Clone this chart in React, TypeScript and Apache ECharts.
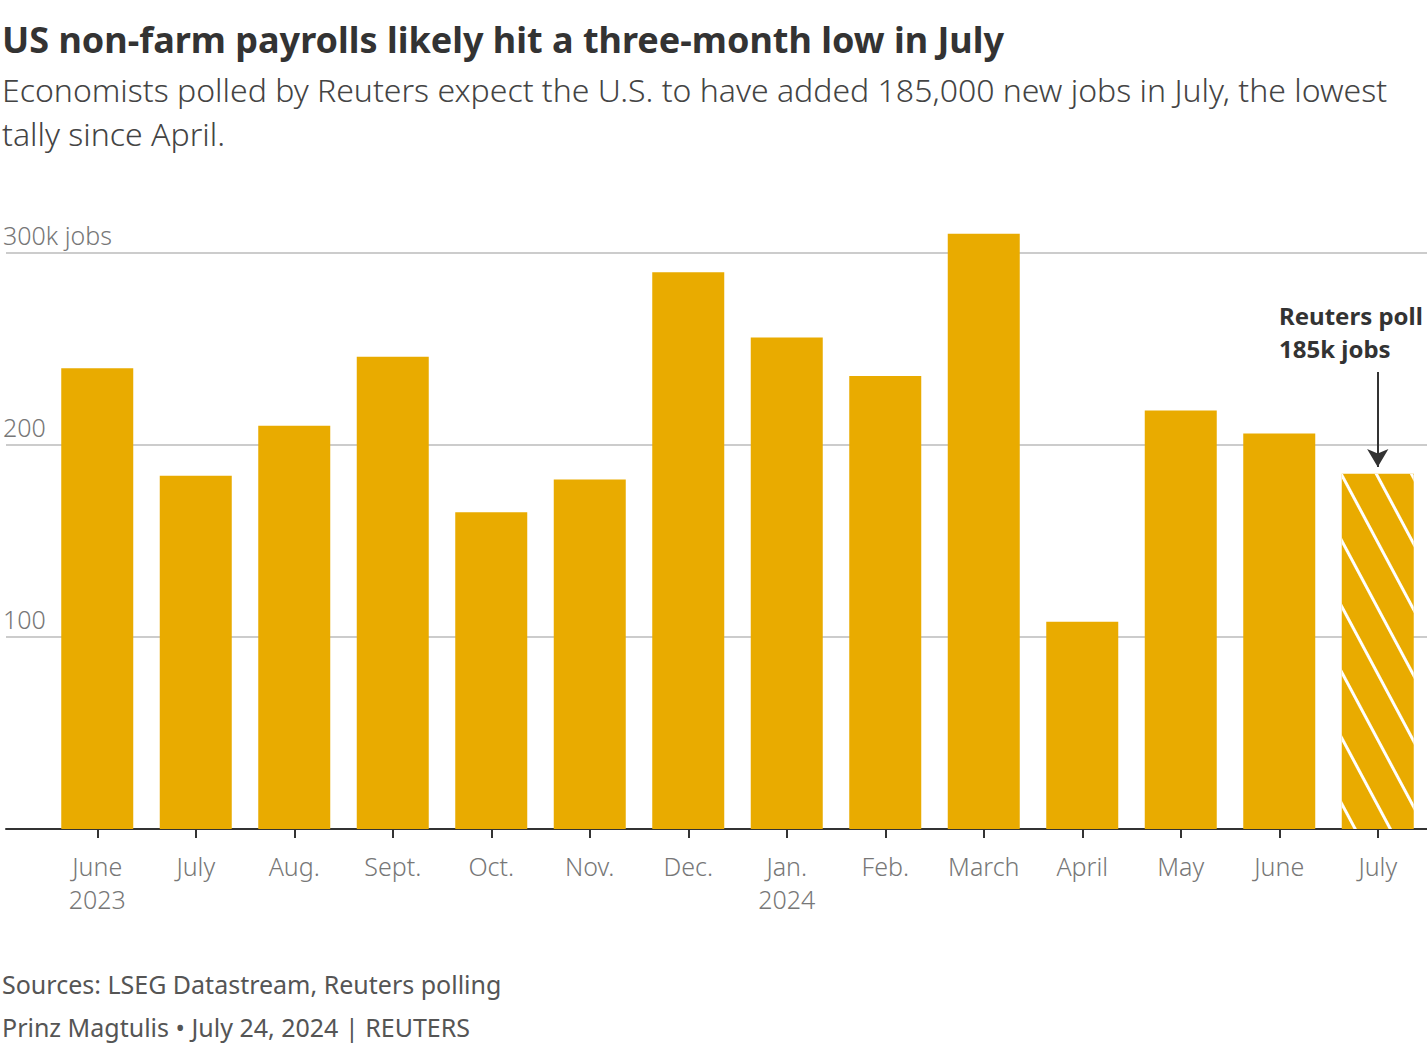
import React, { useEffect, useRef } from "react";
import * as echarts from "echarts";

const months = ["June\n2023", "July", "Aug.", "Sept.", "Oct.", "Nov.", "Dec.", "Jan.\n2024", "Feb.", "March", "April", "May", "June", "July"];
const payrolls = [240, 184, 210, 246, 165, 182, 290, 256, 236, 310, 108, 218, 206, 185];
const forecastIndex = 13;
const yTicks = [0, 100, 200, 300];
const yTickLabels = ["", "100", "200", "300k jobs"];
const arrowFrom = 238;
const arrowTo = 188.5;

const GOLD = "#E9AB00";
const FONT = "Noto Sans";

export default function App() {
  const ref = useRef<HTMLDivElement>(null);
  useEffect(() => {
    document.body.style.margin = "0";
    const chart = echarts.init(ref.current!, null, { renderer: "svg" });
    const barData = payrolls.map((v, i) =>
      i === forecastIndex
        ? {
            value: v,
            itemStyle: {
              color: GOLD,
              decal: {
                symbol: "rect",
                dashArrayX: [1, 0],
                dashArrayY: [3, 28],
                rotation: 1.08,
                color: "#ffffff",
              },
            },
          }
        : v
    );
    chart.setOption({
      animation: false,
      textStyle: { fontFamily: FONT },
      title: [
        {
          text: "US non-farm payrolls likely hit a three-month low in July",
          left: 2,
          top: 21,
          padding: 0,
          textStyle: { fontSize: 36, fontWeight: "bold", color: "#333", fontFamily: FONT },
        },
        {
          text: "Economists polled by Reuters expect the U.S. to have added 185,000 new jobs in July, the lowest\ntally since April.",
          left: 2,
          top: 67,
          padding: 0,
          textStyle: { fontSize: 32, fontWeight: 300, color: "#444", lineHeight: 44, fontFamily: FONT },
        },
        {
          text: "Sources: LSEG Datastream, Reuters polling",
          left: 2,
          top: 971,
          padding: 0,
          textStyle: { fontSize: 25, fontWeight: "normal", color: "#555", fontFamily: FONT },
        },
        {
          text: "Prinz Magtulis • July 24, 2024 | REUTERS",
          left: 2,
          top: 1014,
          padding: 0,
          textStyle: { fontSize: 25, fontWeight: "normal", color: "#555", fontFamily: FONT },
        },
      ],
      grid: [
        { left: 0, right: 0, top: 253, height: 576 },
        { left: 48, width: 1380, top: 253, height: 576 },
      ],
      xAxis: [
        {
          gridIndex: 0,
          type: "value",
          min: 0,
          max: 1,
          axisLine: { show: true, lineStyle: { color: "#333", width: 2 } },
          axisTick: { show: false },
          axisLabel: { show: false },
          splitLine: { show: false },
        },
        {
          gridIndex: 1,
          type: "category",
          data: months,
          axisLine: { show: false },
          axisTick: { show: true, alignWithLabel: true, length: 9, lineStyle: { color: "#333", width: 2 } },
          axisLabel: { color: "#777", fontSize: 25, margin: 20, lineHeight: 33, fontFamily: FONT, fontWeight: 300, interval: 0 },
        },
      ],
      yAxis: [
        {
          gridIndex: 0,
          type: "value",
          min: 0,
          max: 300,
          interval: 100,
          axisLine: { show: false },
          axisTick: { show: false },
          splitLine: { show: true, lineStyle: { color: "#cccccc", width: 2 } },
          axisLabel: {
            inside: true,
            margin: -3,
            verticalAlign: "bottom",
            padding: [0, 0, 6, 0],
            color: "#777",
            fontSize: 25,
            fontWeight: 300,
            fontFamily: FONT,
            formatter: (v: number) => yTickLabels[yTicks.indexOf(v)] ?? "",
          },
        },
        {
          gridIndex: 1,
          type: "value",
          min: 0,
          max: 300,
          interval: 100,
          show: false,
          splitLine: { show: false },
        },
      ],
      series: [
        {
          type: "bar",
          xAxisIndex: 1,
          yAxisIndex: 1,
          data: barData,
          barWidth: 72,
          clip: false,
          itemStyle: { color: GOLD },
          markLine: {
            silent: true,
            symbol: ["none", "arrow"],
            symbolSize: [16, 18],
            lineStyle: { color: "#333", width: 2, type: "solid" },
            label: { show: false },
            data: [[{ coord: [forecastIndex, arrowFrom] }, { coord: [forecastIndex, arrowTo] }]],
          },
        },
      ],
      graphic: [
        {
          type: "text",
          left: 1279,
          top: 299,
          style: {
            text: "Reuters poll\n185k jobs",
            fontSize: 24,
            fontWeight: "bold",
            fill: "#333",
            lineHeight: 33,
            fontFamily: FONT,
          },
        },
      ],
    });
    return () => chart.dispose();
  }, []);
  return <div ref={ref} style={{ position: "absolute", left: 0, top: 0, width: 1427, height: 1052 }} />;
}
